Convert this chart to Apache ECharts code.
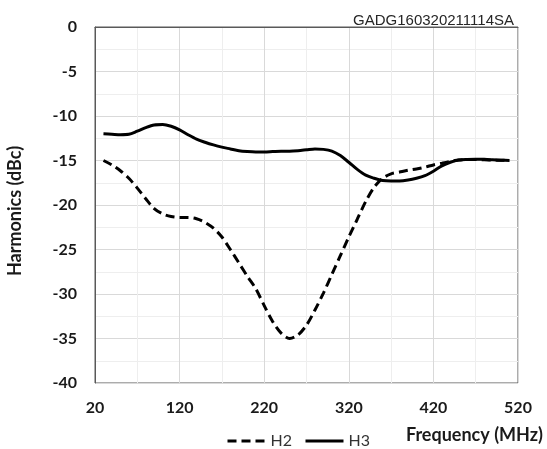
<!DOCTYPE html>
<html><head><meta charset="utf-8">
<script src="https://cdn.jsdelivr.net/npm/echarts@6/dist/echarts.min.js"></script>
<style>html,body{margin:0;padding:0;background:#fff}#c{width:547px;height:449px}</style>
</head><body><div id="c"></div>
<script>
const chartTitle = 'GADG160320211114SA';
const xAxisName = 'Frequency (MHz)';
const yAxisName = 'Harmonics (dBc)';
const seriesNames = ['H2', 'H3'];
const frequency = [30, 40, 50, 60, 70, 80, 90, 100, 110, 120, 130, 140, 150, 160, 170, 180, 190, 200, 210, 220, 230, 240, 250, 260, 270, 280, 290, 300, 310, 320, 330, 340, 350, 360, 370, 380, 390, 400, 410, 420, 430, 440, 450, 460, 470, 480, 490, 500, 510];
const h2 = [-15.0, -15.5, -16.15, -17.0, -18.1, -19.3, -20.4, -21.0, -21.3, -21.4, -21.4, -21.55, -21.95, -22.6, -23.6, -25.0, -26.5, -28.0, -29.4, -31.3, -33.1, -34.4, -35.0, -34.6, -33.5, -31.8, -29.9, -27.8, -25.7, -23.6, -21.6, -19.6, -18.0, -17.0, -16.5, -16.3, -16.1, -15.95, -15.75, -15.5, -15.3, -15.1, -14.95, -14.9, -14.9, -14.92, -14.95, -14.97, -15.0];
const h3 = [-12.0, -12.05, -12.1, -12.05, -11.7, -11.3, -11.0, -10.95, -11.15, -11.55, -12.1, -12.6, -12.95, -13.25, -13.5, -13.7, -13.9, -14.0, -14.05, -14.05, -14.0, -13.95, -13.95, -13.9, -13.8, -13.7, -13.75, -13.95, -14.45, -15.2, -16.0, -16.65, -17.0, -17.25, -17.3, -17.3, -17.2, -17.0, -16.7, -16.2, -15.6, -15.2, -14.95, -14.88, -14.85, -14.87, -14.92, -14.97, -15.0];
const xRange = [20, 520, 100];
const yRange = [-40, 0, 5];

const pairs = (xs, ys) => xs.map((x, i) => [x, ys[i]]);
const chart = echarts.init(document.getElementById('c'));
const labelFont = { fontFamily: 'Lato', fontWeight: 'bold', fontSize: 16, color: '#1a1a1a' };
chart.setOption({
  animation: false,
  title: {
    text: chartTitle, right: 28, top: 8,
    textStyle: { fontFamily: 'Liberation Sans', fontWeight: 'normal', fontSize: 15, color: '#262626' }
  },
  grid: {
    left: 95, right: 29, top: 27, bottom: 66, outerBoundsMode: 'none',
    show: true, borderColor: '#595959', borderWidth: 1, backgroundColor: 'transparent'
  },
  legend: {
    data: seriesNames, left: 221, top: 428, itemWidth: 38, itemHeight: 14, itemGap: 12,
    selectedMode: false, itemStyle: { opacity: 0 }, lineStyle: { width: 3 },
    textStyle: { fontFamily: 'Lato', fontSize: 16, color: '#333' }
  },
  graphic: [{
    type: 'text', right: 4, top: 426,
    style: { text: xAxisName, font: 'bold 18px Lato', fill: '#1a1a1a' }
  }],
  xAxis: {
    type: 'value', min: xRange[0], max: xRange[1], interval: xRange[2],
    axisLine: { show: true, lineStyle: { color: '#595959', width: 1 } },
    axisTick: { show: false },
    axisLabel: Object.assign({ margin: 17 }, labelFont),
    splitLine: { show: true, lineStyle: { color: '#d9d9d9', width: 1 } },
    minorTick: { show: false, splitNumber: 2 },
    minorSplitLine: { show: true, lineStyle: { color: '#eeeeee', width: 1 } }
  },
  yAxis: {
    type: 'value', min: yRange[0], max: yRange[1], interval: yRange[2],
    name: yAxisName, nameLocation: 'middle', nameGap: 71,
    nameTextStyle: { fontFamily: 'Lato', fontWeight: 'bold', fontSize: 18, color: '#1a1a1a', padding: [0, 12, 0, 0] },
    axisLine: { show: true, lineStyle: { color: '#595959', width: 1 } },
    axisTick: { show: false },
    axisLabel: Object.assign({ margin: 18 }, labelFont),
    splitLine: { show: true, lineStyle: { color: '#d9d9d9', width: 1 } },
    minorTick: { show: false, splitNumber: 2 },
    minorSplitLine: { show: true, lineStyle: { color: '#eeeeee', width: 1 } }
  },
  series: [
    {
      name: seriesNames[0], type: 'line', data: pairs(frequency, h2), smooth: 0.3,
      symbol: 'none', lineStyle: { color: '#000', width: 3, type: [9, 5] }, itemStyle: { color: '#000' }
    },
    {
      name: seriesNames[1], type: 'line', data: pairs(frequency, h3), smooth: 0.3,
      symbol: 'none', lineStyle: { color: '#000', width: 3, type: 'solid' }, itemStyle: { color: '#000' }
    }
  ]
});
</script></body></html>
